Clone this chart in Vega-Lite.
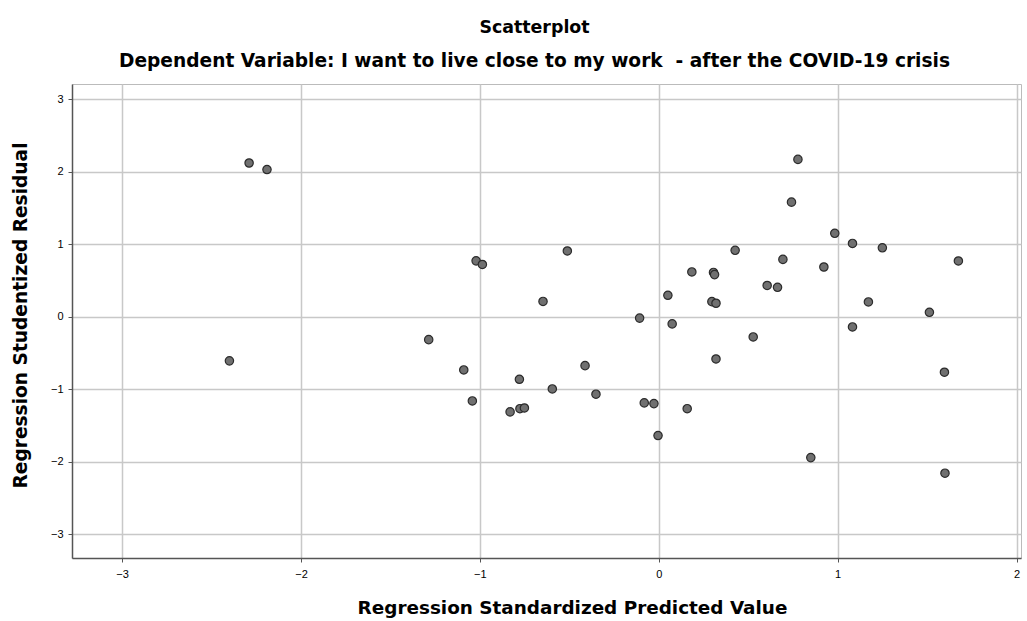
{
  "$schema": "https://vega.github.io/schema/vega-lite/v6.json",
  "width": 949,
  "height": 474,
  "autosize": {"type": "none"},
  "padding": {"left": 72, "top": 84, "right": 6, "bottom": 63},
  "background": "white",
  "title": {
    "text": "Scatterplot",
    "subtitle": "Dependent Variable: I want to live close to my work \u00a0- after the COVID-19 crisis",
    "frame": "group",
    "anchor": "middle",
    "dx": -12,
    "font": "DejaVu Sans",
    "fontSize": 17.4,
    "fontWeight": "bold",
    "color": "#000000",
    "subtitleFont": "DejaVu Sans",
    "subtitleFontSize": 18.6,
    "subtitleFontWeight": "bold",
    "subtitleColor": "#000000",
    "subtitlePadding": 16,
    "offset": 13
  },
  "data": {
    "values": [
      {"pred": -2.29, "resid": 2.12},
      {"pred": -2.19, "resid": 2.03},
      {"pred": -2.40, "resid": -0.61},
      {"pred": -1.021, "resid": 0.77},
      {"pred": -0.986, "resid": 0.72},
      {"pred": -0.511, "resid": 0.906},
      {"pred": -0.647, "resid": 0.21},
      {"pred": -0.107, "resid": -0.02},
      {"pred": 0.051, "resid": 0.295},
      {"pred": 0.075, "resid": -0.10},
      {"pred": 0.185, "resid": 0.617},
      {"pred": -1.286, "resid": -0.317},
      {"pred": -1.09, "resid": -0.735},
      {"pred": -0.412, "resid": -0.676},
      {"pred": 0.778, "resid": 2.17},
      {"pred": 0.742, "resid": 1.58},
      {"pred": 0.984, "resid": 1.15},
      {"pred": 1.083, "resid": 1.01},
      {"pred": 1.25, "resid": 0.95},
      {"pred": 0.427, "resid": 0.915},
      {"pred": 0.694, "resid": 0.79},
      {"pred": 0.923, "resid": 0.685},
      {"pred": 1.675, "resid": 0.768},
      {"pred": 0.306, "resid": 0.61},
      {"pred": 0.312, "resid": 0.58},
      {"pred": 0.606, "resid": 0.43},
      {"pred": 0.664, "resid": 0.405},
      {"pred": 0.297, "resid": 0.207},
      {"pred": 0.32, "resid": 0.185},
      {"pred": 1.172, "resid": 0.203},
      {"pred": 1.513, "resid": 0.06},
      {"pred": 1.083, "resid": -0.142},
      {"pred": 0.528, "resid": -0.28},
      {"pred": 0.32, "resid": -0.584},
      {"pred": 1.597, "resid": -0.767},
      {"pred": -0.779, "resid": -0.864},
      {"pred": -1.042, "resid": -1.163},
      {"pred": -0.595, "resid": -0.997},
      {"pred": -0.351, "resid": -1.07},
      {"pred": -0.831, "resid": -1.314},
      {"pred": -0.776, "resid": -1.27},
      {"pred": -0.751, "resid": -1.26},
      {"pred": -0.081, "resid": -1.19},
      {"pred": -0.027, "resid": -1.20},
      {"pred": 0.159, "resid": -1.27},
      {"pred": -0.004, "resid": -1.64},
      {"pred": 0.85, "resid": -1.945},
      {"pred": 1.60, "resid": -2.16}
    ]
  },
  "mark": {
    "type": "point",
    "filled": true,
    "shape": "circle",
    "size": 70,
    "fill": "#707070",
    "fillOpacity": 1,
    "stroke": "#2b2b2b",
    "strokeWidth": 1.2,
    "opacity": 1
  },
  "encoding": {
    "x": {
      "field": "pred",
      "type": "quantitative",
      "scale": {"domain": [-3.28, 2.025], "nice": false, "zero": false},
      "axis": {
        "title": "Regression Standardized Predicted Value",
        "values": [-3, -2, -1, 0, 1, 2],
        "format": "d",
        "grid": true,
        "gridColor": "#c8c8c8",
        "gridWidth": 1.5,
        "domainColor": "#555555",
        "domainWidth": 1.5,
        "tickColor": "#555555",
        "tickSize": 4,
        "labelFont": "Liberation Sans",
        "labelFontSize": 11,
        "labelColor": "#000000",
        "labelPadding": 6,
        "titleFont": "DejaVu Sans",
        "titleFontSize": 18.4,
        "titleFontWeight": "bold",
        "titleColor": "#000000",
        "titlePadding": 19,
        "titleX": 500
      }
    },
    "y": {
      "field": "resid",
      "type": "quantitative",
      "scale": {"domain": [-3.33, 3.21], "nice": false, "zero": false},
      "axis": {
        "title": "Regression Studentized Residual",
        "values": [-3, -2, -1, 0, 1, 2, 3],
        "format": "d",
        "grid": true,
        "gridColor": "#c8c8c8",
        "gridWidth": 1.5,
        "domainColor": "#555555",
        "domainWidth": 1.5,
        "tickColor": "#555555",
        "tickSize": 4,
        "labelFont": "Liberation Sans",
        "labelFontSize": 11,
        "labelColor": "#000000",
        "labelPadding": 5,
        "titleFont": "DejaVu Sans",
        "titleFontSize": 18.6,
        "titleFontWeight": "bold",
        "titleColor": "#000000",
        "titlePadding": 20,
        "titleY": 231
      }
    }
  },
  "config": {
    "view": {"stroke": "#bbbbbb", "strokeWidth": 1}
  }
}
